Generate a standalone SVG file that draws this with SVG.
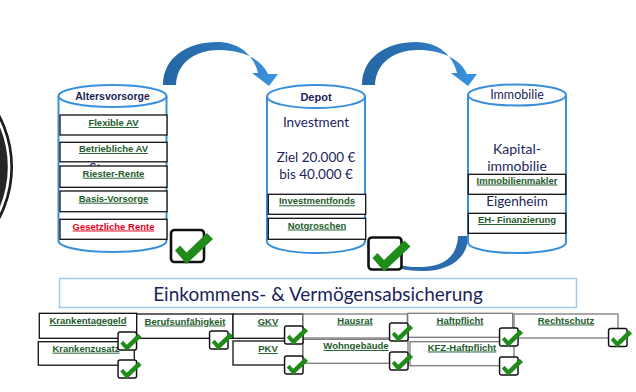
<svg xmlns="http://www.w3.org/2000/svg" xmlns:xlink="http://www.w3.org/1999/xlink" width="636" height="392" viewBox="0 0 636 392">
<style>
.cyl{fill:#fff;stroke:#3a8fdc;stroke-width:2}
.bx{fill:#fff;stroke:#111;stroke-width:1.3}
.gbx{fill:#fff;stroke:#7a7a7a;stroke-width:1.3}
.lk{font-family:"Liberation Sans",Arial,sans-serif;font-weight:bold;font-size:9.5px;fill:#1d5c2a;text-decoration:underline;text-anchor:middle}
.red{fill:#e3001b}
.nv{font-family:Lato,"Liberation Sans",sans-serif;fill:#1c1f5b;text-anchor:middle}
.hd{font-family:"Liberation Sans",Arial,sans-serif;font-weight:bold;fill:#1c1f5b;text-anchor:middle}
</style>
<defs>
<linearGradient id="ag" x1="0" y1="0" x2="1" y2="0">
<stop offset="0" stop-color="#2466a3"/>
<stop offset="0.5" stop-color="#2c75b8"/>
<stop offset="1" stop-color="#3c95e0"/>
</linearGradient>
<g id="chk">
<rect x="1" y="1" width="33" height="32" rx="3.5" fill="#fff" stroke="#111" stroke-width="2.6"/>
<polygon points="5,21.5 10,16.5 16.5,23.5 37,4 43,10 16.5,35" fill="#1f8c1a"/>
</g>
</defs>

<g id="logo">
<circle cx="-97.5" cy="167" r="109.2" fill="#fff" stroke="#1e1e1e" stroke-width="2.7"/>
<circle cx="-97.5" cy="167" r="105.3" fill="#262626"/>
</g>

<g id="connectors">
<path d="M163,85 C163,57 188,42 217,42 C240,42 254,56 258,73 L252,73 L269,86 L278,74 L268,74 C262,60 244,50 219,50 C196,50 177,62 176,85 Z" fill="url(#ag)"/>
<path transform="translate(199,0)" d="M163,85 C163,57 188,42 217,42 C240,42 254,56 258,73 L252,73 L269,86 L278,74 L268,74 C262,60 244,50 219,50 C196,50 177,62 176,85 Z" fill="url(#ag)"/>
<path d="M366,243 C372,262 395,271 423,271 C450,271 468,258 468,236 L458,236 C457,256 445,266 423,267 C398,268 375,260 366,243 Z" fill="#2b6dac"/>
</g>

<g id="altersvorsorge">
<path class="cyl" d="M58.5,96 L58.5,241 A54,11 0 0 0 166.5,241 L166.5,96"/>
<ellipse class="cyl" cx="112.5" cy="96" rx="54" ry="11"/>
<text class="hd" x="112.5" y="99.5" font-size="10.5">Altersvorsorge</text>
<text class="nv" x="113" y="173" font-size="14">Steuern</text>
<rect class="bx" x="60" y="115" width="107" height="20"/>
<text class="lk" x="113.5" y="126">Flexible AV</text>
<rect class="bx" x="60" y="142.3" width="107" height="19.5"/>
<text class="lk" x="113.5" y="152">Betriebliche AV</text>
<rect class="bx" x="60" y="166" width="107" height="21.3"/>
<text class="lk" x="113.5" y="176.7">Riester-Rente</text>
<rect class="bx" x="60" y="191" width="107" height="20.7"/>
<text class="lk" x="113.5" y="201.7">Basis-Vorsorge</text>
<rect class="bx" x="60" y="219.3" width="107" height="20"/>
<text class="lk red" x="113.5" y="229.5">Gesetzliche Rente</text>
</g>

<g id="depot">
<path class="cyl" d="M267,96.5 L267,241.5 A49,11.5 0 0 0 365,241.5 L365,96.5"/>
<ellipse class="cyl" cx="316" cy="96.5" rx="49" ry="11.5"/>
<text class="hd" x="316" y="101" font-size="11">Depot</text>
<text class="nv" x="316" y="127.3" font-size="13.5">Investment</text>
<text class="nv" x="316" y="162" font-size="13.5">Ziel 20.000 €</text>
<text class="nv" x="316" y="178.7" font-size="13.5">bis 40.000 €</text>
<rect class="bx" x="268.3" y="194.3" width="97.4" height="20"/>
<text class="lk" x="317" y="204.3">Investmentfonds</text>
<rect class="bx" x="268.3" y="218.3" width="97.4" height="21"/>
<text class="lk" x="317" y="228.5">Notgroschen</text>
</g>

<g id="immobilie">
<path class="cyl" d="M468,95 L468,242.5 A49,10.5 0 0 0 566,242.5 L566,95"/>
<ellipse class="cyl" cx="517" cy="95" rx="49" ry="10.5"/>
<text class="nv" x="517" y="98.5" font-size="12.5">Immobilie</text>
<text class="nv" x="517" y="154" font-size="14">Kapital-</text>
<text class="nv" x="517" y="170.7" font-size="14">immobilie</text>
<rect class="bx" x="468.3" y="174.3" width="97.4" height="20"/>
<text class="lk" x="517" y="183.5">Immobilienmakler</text>
<text class="nv" x="517" y="206" font-size="13.5">Eigenheim</text>
<rect class="bx" x="468.3" y="213.3" width="97.4" height="20"/>
<text class="lk" x="517" y="223">EH- Finanzierung</text>
</g>

<g id="check-alters"><use xlink:href="#chk" href="#chk" transform="translate(170,229)"/></g>
<g id="check-depot"><use xlink:href="#chk" href="#chk" transform="translate(367.5,236.5)"/></g>

<g id="banner">
<rect x="59.5" y="278.5" width="517" height="29" fill="#fff" stroke="#9dcdf0" stroke-width="1.5"/>
<text class="nv" x="318" y="301" font-size="19" fill="#1f2660">Einkommens- &amp; Vermögensabsicherung</text>
</g>

<g id="krankentagegeld">
<rect class="bx" x="39.3" y="313.3" width="97.4" height="25"/>
<text class="lk" x="88" y="324">Krankentagegeld</text>
</g>
<g id="berufsunfaehigkeit">
<rect class="bx" x="136.7" y="314" width="96.3" height="24.3"/>
<text class="lk" x="185" y="324.5">Berufsunfähigkeit</text>
</g>
<g id="gkv">
<rect class="bx" x="233" y="314" width="70" height="24.3"/>
<text class="lk" x="268" y="324.5">GKV</text>
</g>
<g id="krankenzusatz">
<rect class="bx" x="38.3" y="341.7" width="96" height="23.5"/>
<text class="lk" x="86" y="351.7">Krankenzusatz</text>
</g>
<g id="pkv">
<rect class="bx" x="233" y="341" width="70" height="24"/>
<text class="lk" x="268" y="352">PKV</text>
</g>
<g id="hausrat">
<rect class="gbx" x="303" y="314" width="104.3" height="24"/>
<text class="lk" x="355" y="323.5">Hausrat</text>
</g>
<g id="wohngebaeude">
<rect class="gbx" x="303" y="339.3" width="105" height="24"/>
<text class="lk" x="356" y="349">Wohngebäude</text>
</g>
<g id="haftpflicht">
<rect class="gbx" x="407.7" y="313.3" width="105" height="24"/>
<text class="lk" x="460" y="323.5">Haftpflicht</text>
</g>
<g id="kfz-haftpflicht">
<rect class="gbx" x="410" y="341.7" width="104" height="24"/>
<text class="lk" x="462" y="350.5">KFZ-Haftpflicht</text>
</g>
<g id="rechtschutz">
<rect class="gbx" x="514" y="314" width="104" height="24"/>
<text class="lk" x="566" y="323.5">Rechtschutz</text>
</g>

<g id="checks-small">
<use xlink:href="#chk" href="#chk" transform="translate(117.5,331.5) scale(0.56)"/>
<use xlink:href="#chk" href="#chk" transform="translate(117.5,359.5) scale(0.56)"/>
<use xlink:href="#chk" href="#chk" transform="translate(209,330.5) scale(0.56)"/>
<use xlink:href="#chk" href="#chk" transform="translate(284,325.5) scale(0.56)"/>
<use xlink:href="#chk" href="#chk" transform="translate(284,355.5) scale(0.56)"/>
<use xlink:href="#chk" href="#chk" transform="translate(389,322.5) scale(0.56)"/>
<use xlink:href="#chk" href="#chk" transform="translate(389,351.5) scale(0.56)"/>
<use xlink:href="#chk" href="#chk" transform="translate(499,327.5) scale(0.56)"/>
<use xlink:href="#chk" href="#chk" transform="translate(499,356.5) scale(0.56)"/>
<use xlink:href="#chk" href="#chk" transform="translate(608,328) scale(0.56)"/>
</g>
</svg>
